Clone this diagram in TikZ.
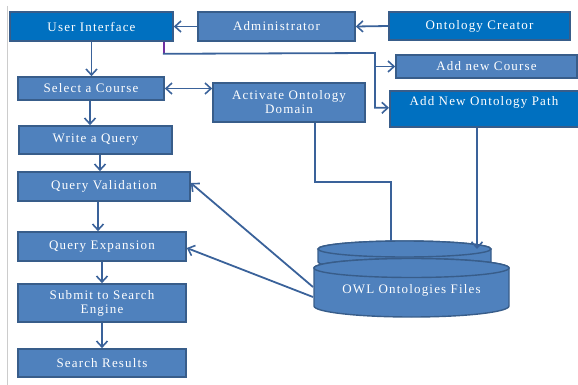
\documentclass[tikz,border=0pt]{standalone}
\usepackage{fontspec}
\setmainfont{Liberation Serif}[LetterSpace=9]
\usetikzlibrary{arrows.meta,calc}
\definecolor{midblue}{HTML}{4F81BD}
\definecolor{darkblue}{HTML}{0070C0}
\definecolor{bordblue}{HTML}{385D8A}
\definecolor{connblue}{HTML}{3A629A}
\definecolor{purp}{HTML}{7030A0}
\begin{document}
\begin{tikzpicture}[x=1pt,y=-1pt,
  boxbase/.style={draw=bordblue, line width=1.6pt, text=white, align=center, inner sep=0pt,
     font=\fontsize{13}{14}\selectfont},
  boxmid/.style={boxbase, fill=midblue},
  boxdark/.style={boxbase, fill=darkblue},
  conn/.style={draw=connblue, line width=1.8pt},
  barb/.tip={Straight Barb[length=6pt,width=11pt,line width=1.6pt]},
  arr/.style={conn, -barb},
  darr/.style={conn, barb-barb},
  cyl/.style={fill=midblue, draw=bordblue, line width=1.4pt}]
\useasboundingbox (0,0) rectangle (578,385);
\draw[black!20, line width=0.8pt] (7,6) -- (7,385);

% boxes
\node[boxdark, minimum width=163pt, minimum height=29pt] (ui) at (91.5,26.5) {User Interface};
\node[boxmid, minimum width=157pt, minimum height=29pt] (admin) at (276.5,26.5) {Administrator};
\node[boxdark, minimum width=181pt, minimum height=28pt] (oc) at (479.5,26) {Ontology Creator};
\node[boxmid, minimum width=181pt, minimum height=23pt] (anc) at (486.5,66.5) {Add new Course};
\node[boxdark, minimum width=189pt, minimum height=36pt, anchor=north west] (anp) at (389,90) {};
\node[text=white, font=\fontsize{13}{14}\selectfont] (anpt) at (484,102.5) {Add New Ontology Path};
\node[boxmid, minimum width=146pt, minimum height=23pt] (sel) at (91,88.5) {Select a Course};
\node[boxmid, minimum width=152pt, minimum height=39pt] (act) at (289,102.5) {Activate Ontology\\Domain};
\node[boxmid, minimum width=153pt, minimum height=28pt] (wq) at (95.5,140) {Write a Query};
\node[boxmid, minimum width=172pt, minimum height=29pt] (qv) at (104,186.5) {Query Validation};
\node[boxmid, minimum width=168pt, minimum height=29pt] (qe) at (102,246.5) {Query Expansion};
\node[boxmid, minimum width=168pt, minimum height=38pt] (sub) at (102,303) {Submit to Search\\Engine};
\node[boxmid, minimum width=168pt, minimum height=28pt] (sr) at (102,363) {Search Results};

% cylinders
\path[cyl] (318,249) -- (318,262) arc[start angle=180,end angle=360,x radius=86.5pt,y radius=8pt]
  -- (491,249) arc[start angle=0,end angle=180,x radius=86.5pt,y radius=8pt] -- cycle;
\draw[cyl] (404.5,249) ellipse [x radius=86.5pt, y radius=8pt];
\path[cyl] (314,268) -- (314,306) arc[start angle=180,end angle=360,x radius=97.5pt,y radius=11pt]
  -- (509,268) arc[start angle=0,end angle=180,x radius=97.5pt,y radius=9.5pt] -- cycle;
\draw[cyl] (411.5,268) ellipse [x radius=97.5pt, y radius=9.5pt];
\node[text=white, font=\fontsize{13}{14}\selectfont] (owl) at (411.5,290) {OWL Ontologies Files};
\coordinate (backtop) at (391,241);
\coordinate (backtop2) at (477,249);
\coordinate (cylA) at (313,287);
\coordinate (cylB) at (313,297);

% connectors
\draw[arr] (admin.west) -- (ui.east);
\draw[arr] (oc.west) -- (admin.east);
\draw[arr] (ui.south) -- (ui.south |- sel.north);
\draw[darr] (sel.east) -- (sel.east -| act.west);
\draw[arr] ([xshift=-1pt]sel.south) -- ([xshift=-1pt]sel.south |- wq.north);
\draw[arr] ([xshift=4.5pt]wq.south) -- ([xshift=4.5pt]wq.south |- qv.north);
\draw[arr] ([xshift=-6pt]qv.south) -- ([xshift=-6pt]qv.south |- qe.north);
\draw[arr] (qe.south) -- (sub.north);
\draw[arr] (sub.south) -- (sr.north);

\coordinate (p0) at ([xshift=-10pt]ui.south east);
\coordinate (p1) at ($(p0)+(0,12)$);
\coordinate (bus) at (375,53);
\draw[purp, line width=1.8pt] (p0) -- (p1);
\draw[arr] ([xshift=-0.9pt]p1) -- (bus) |- ([yshift=1pt]anp.west);
\draw[arr] (bus |- anc.west) -- (anc.west);

\draw[conn] ([xshift=26pt]act.south) |- (backtop |- 0,182) -- (backtop);
\draw[arr] (backtop2 |- anp.south) -- (backtop2);
\draw[arr] (cylA) -- ([yshift=3.5pt]qv.east);
\draw[arr] (cylB) -- ([yshift=-1.5pt]qe.east);
\end{tikzpicture}
\end{document}
